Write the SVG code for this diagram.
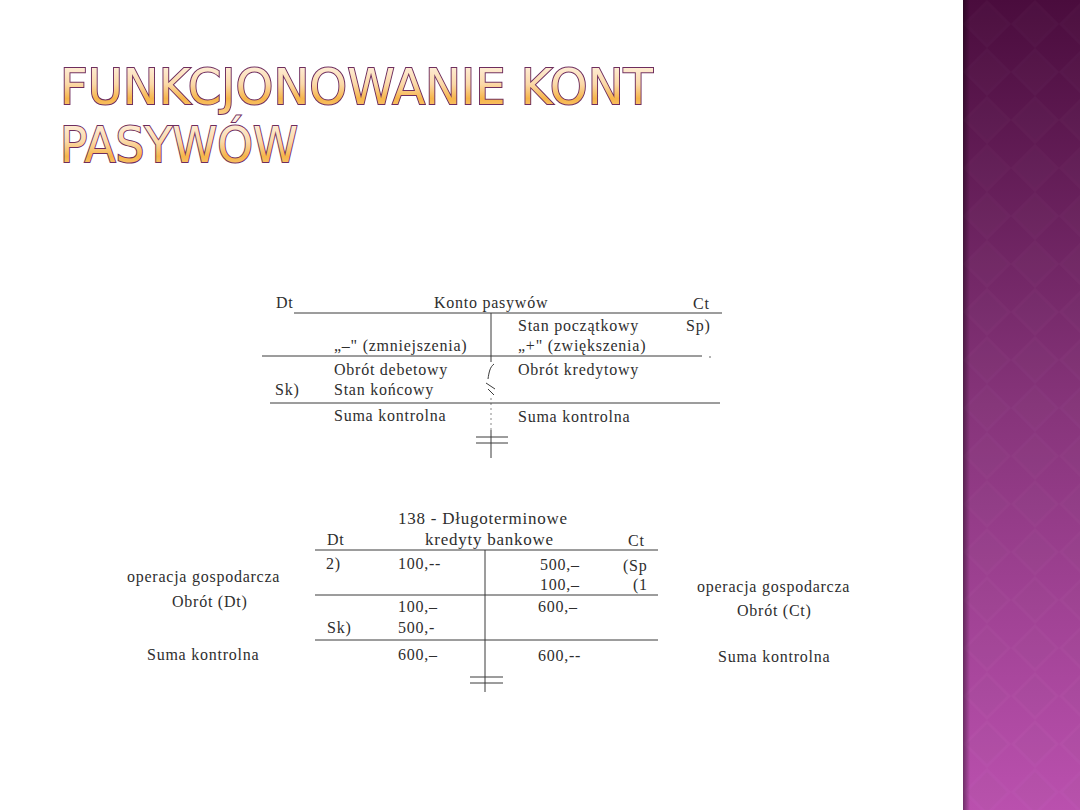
<svg xmlns="http://www.w3.org/2000/svg" width="1080" height="810" viewBox="0 0 1080 810">
<defs>
<linearGradient id="band" x1="0" y1="0" x2="0" y2="1">
<stop offset="0" stop-color="#4a0c3d"/>
<stop offset="0.5" stop-color="#86347a"/>
<stop offset="1" stop-color="#ba50ae"/>
</linearGradient>
<linearGradient id="edge" x1="0" y1="0" x2="1" y2="0">
<stop offset="0" stop-color="#000" stop-opacity="0.4"/>
<stop offset="1" stop-color="#000" stop-opacity="0"/>
</linearGradient>
<pattern id="dia" x="963" y="0" width="48" height="48" patternUnits="userSpaceOnUse">
<polygon points="24,0 48,24 24,48 0,24" fill="#ffffff" fill-opacity="0.02"/>
<polygon points="24,4 44,24 24,44 4,24" fill="#000000" fill-opacity="0.02"/>
</pattern>
<linearGradient id="tfill" x1="0" y1="0" x2="0" y2="1">
<stop offset="0" stop-color="#fff6ec"/>
<stop offset="0.45" stop-color="#fbd9a8"/>
<stop offset="0.7" stop-color="#f6b54a"/>
<stop offset="1" stop-color="#fbd08a"/>
</linearGradient>
<style>
.t{font-family:"Liberation Serif","Times New Roman",serif;font-size:16px;fill:#2e2e2e;letter-spacing:0.75px}
.ln{stroke:#3a3a3a;stroke-width:1;fill:none}
.title{font-family:"DejaVu Sans","Open Sans",sans-serif;font-size:50px;font-weight:normal;stroke:#6e2d5e;stroke-width:2;paint-order:stroke fill}
</style>
</defs>
<rect x="0" y="0" width="1080" height="810" fill="#ffffff"/>
<g id="band-group">
<rect x="963" y="0" width="117" height="810" fill="url(#band)"/>
<rect x="963" y="0" width="117" height="810" fill="url(#dia)"/>
<rect x="963" y="0" width="7" height="810" fill="url(#edge)"/>
</g>
<g id="title">
<text class="title" fill="url(#tfill)" x="60" y="104" textLength="593" lengthAdjust="spacingAndGlyphs">FUNKCJONOWANIE KONT</text>
<text class="title" fill="url(#tfill)" x="60" y="162" textLength="238" lengthAdjust="spacingAndGlyphs">PASYWÓW</text>
</g>
<g id="connectors">
<line class="ln" x1="294" y1="313" x2="722" y2="313"/>
<line class="ln" x1="491" y1="313" x2="491" y2="362"/>
<line class="ln" x1="262" y1="356" x2="702" y2="356"/>
<circle cx="710" cy="357" r="0.8" fill="#555"/>
<path class="ln" d="M494,364 C490,367 489,372 488,379 M486,383 L495,389 M488,389 L494,395"/>
<line class="ln" x1="270" y1="403" x2="720" y2="403"/>
<line class="ln" x1="491" y1="398" x2="491" y2="430" stroke-dasharray="2 3" stroke-opacity="0.6"/>
<line class="ln" x1="491" y1="430" x2="491" y2="458"/>
<line class="ln" x1="476" y1="437" x2="508" y2="437"/>
<line class="ln" x1="476" y1="443" x2="508" y2="443"/>
<line class="ln" x1="315" y1="550" x2="658" y2="550"/>
<line class="ln" x1="485" y1="550" x2="485" y2="692"/>
<line class="ln" x1="315" y1="595" x2="658" y2="595"/>
<line class="ln" x1="315" y1="640" x2="658" y2="640"/>
<line class="ln" x1="470" y1="677" x2="503" y2="677"/>
<line class="ln" x1="470" y1="683" x2="503" y2="683"/>
</g>
<g id="upper-account">
<text class="t" x="276" y="308">Dt</text>
<text class="t" x="434" y="308">Konto pasywów</text>
<text class="t" x="693" y="309">Ct</text>
<text class="t" x="518" y="331">Stan początkowy</text>
<text class="t" x="686" y="331">Sp)</text>
<text class="t" x="334" y="351">„–" (zmniejszenia)</text>
<text class="t" x="518" y="351">„+" (zwiększenia)</text>
<text class="t" x="334" y="375">Obrót debetowy</text>
<text class="t" x="518" y="375">Obrót kredytowy</text>
<text class="t" x="275" y="395">Sk)</text>
<text class="t" x="334" y="395">Stan końcowy</text>
<text class="t" x="334" y="421">Suma kontrolna</text>
<text class="t" x="518" y="422">Suma kontrolna</text>
</g>
<g id="lower-account">
<text class="t" x="398" y="524" style="font-size:17px">138 - Długoterminowe</text>
<text class="t" x="425" y="545" style="font-size:17px">kredyty bankowe</text>
<text class="t" x="327" y="545">Dt</text>
<text class="t" x="628" y="546">Ct</text>
<text class="t" x="326" y="569">2)</text>
<text class="t" x="398" y="569">100,--</text>
<text class="t" x="540" y="570">500,–</text>
<text class="t" x="623" y="571">(Sp</text>
<text class="t" x="540" y="590">100,–</text>
<text class="t" x="633" y="590">(1</text>
<text class="t" x="398" y="612">100,–</text>
<text class="t" x="538" y="612">600,–</text>
<text class="t" x="327" y="633">Sk)</text>
<text class="t" x="398" y="633">500,-</text>
<text class="t" x="398" y="660">600,–</text>
<text class="t" x="538" y="661">600,--</text>
</g>
<g id="left-labels">
<text class="t" x="127" y="582">operacja gospodarcza</text>
<text class="t" x="172" y="607">Obrót (Dt)</text>
<text class="t" x="147" y="660">Suma kontrolna</text>
</g>
<g id="right-labels">
<text class="t" x="697" y="592">operacja gospodarcza</text>
<text class="t" x="737" y="616">Obrót (Ct)</text>
<text class="t" x="718" y="662">Suma kontrolna</text>
</g>
</svg>
